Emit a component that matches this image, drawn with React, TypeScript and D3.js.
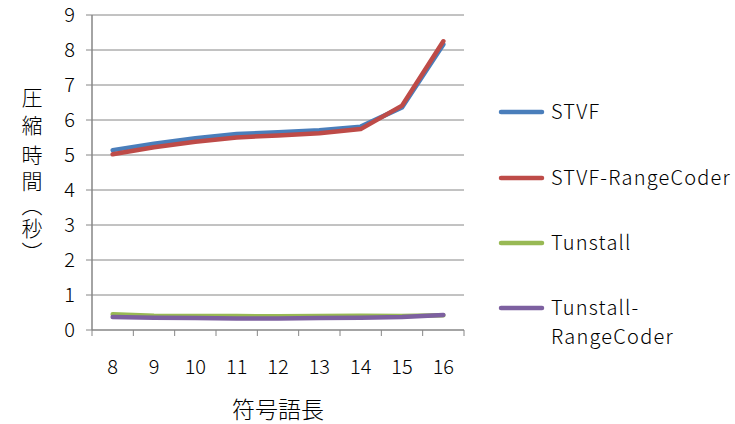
import * as d3 from "d3";

const categories = ["8", "9", "10", "11", "12", "13", "14", "15", "16"];
const stvf = [5.14, 5.32, 5.48, 5.6, 5.65, 5.71, 5.81, 6.36, 8.16];
const stvfRange = [5.02, 5.22, 5.38, 5.5, 5.56, 5.62, 5.74, 6.41, 8.25];
const tunstall = [0.45, 0.41, 0.4, 0.4, 0.39, 0.4, 0.41, 0.4, 0.42];
const tunstallRange = [0.37, 0.35, 0.34, 0.33, 0.33, 0.34, 0.35, 0.37, 0.43];
const yTicks = [0, 1, 2, 3, 4, 5, 6, 7, 8, 9];
const yTitle = ["圧", "縮", "時", "間", "（", "秒", "）"];

const series = [
  { name: ["STVF"], values: stvf, color: "#4a7ebb" },
  { name: ["STVF-RangeCoder"], values: stvfRange, color: "#be4b48" },
  { name: ["Tunstall"], values: tunstall, color: "#98b954" },
  { name: ["Tunstall-", "RangeCoder"], values: tunstallRange, color: "#7d60a0" },
];
const legendY = [112, 178, 243, 308];
const titleY = [97, 125, 155, 181, 205, 228, 252];

const W = 735;
const H = 424;
const FONT = "'Noto Sans CJK JP', 'Open Sans', sans-serif";

export default function App() {
  const left = 92;
  const right = 464;
  const top = 15;
  const bottom = 330;

  const x = d3.scaleBand().domain(categories).range([left, right]);
  const y = d3.scaleLinear().domain([0, 9]).range([bottom, top]);
  const cx = (c: string) => (x(c) ?? 0) + x.bandwidth() / 2;

  const line = (vals: number[]) =>
    d3
      .line<number>()
      .x((_, i) => cx(categories[i]))
      .y((d) => y(d))(vals) ?? "";

  return (
    <svg
      width={W}
      height={H}
      style={{ position: "absolute", left: 0, top: 0, background: "#fff" }}
      fontFamily={FONT}
      fontWeight={300}
    >
      {/* grid */}
      {yTicks.slice(1).map((t) => (
        <line key={t} x1={left} x2={right} y1={y(t)} y2={y(t)} stroke="#868686" strokeWidth={1} />
      ))}
      {/* y axis */}
      <line x1={left} x2={left} y1={top} y2={bottom} stroke="#868686" strokeWidth={1.5} />
      {yTicks.map((t) => (
        <g key={t}>
          <line x1={left - 6} x2={left} y1={y(t)} y2={y(t)} stroke="#868686" strokeWidth={1} />
          <text x={75} y={y(t)} dy="0.35em" textAnchor="end" fontSize={20} fill="#000">
            {t}
          </text>
        </g>
      ))}
      {/* x axis */}
      <line x1={left} x2={right} y1={bottom} y2={bottom} stroke="#868686" strokeWidth={1.5} />
      {categories.map((c, i) => (
        <line
          key={"t" + c}
          x1={left + i * x.bandwidth()}
          x2={left + i * x.bandwidth()}
          y1={bottom}
          y2={bottom + 6}
          stroke="#868686"
          strokeWidth={1}
        />
      ))}
      <line x1={right} x2={right} y1={bottom} y2={bottom + 6} stroke="#868686" strokeWidth={1} />
      {categories.map((c) => (
        <text key={c} x={cx(c)} y={367} dy="0.35em" textAnchor="middle" fontSize={20} fill="#000">
          {c}
        </text>
      ))}
      {/* lines */}
      {series.map((s) => (
        <path
          key={s.color}
          d={line(s.values)}
          fill="none"
          stroke={s.color}
          strokeWidth={4.5}
          strokeLinecap="round"
          strokeLinejoin="round"
        />
      ))}
      {/* axis titles */}
      <text x={278} y={410} dy="0.35em" textAnchor="middle" fontSize={23} fill="#000">
        符号語長
      </text>
      {yTitle.map((ch, i) => (
        <text
          key={i}
          x={32}
          y={titleY[i]}
          textAnchor="middle"
          fontSize={21}
          fill="#000"
          style={{ writingMode: "vertical-rl" }}
        >
          {ch}
        </text>
      ))}
      {/* legend */}
      {series.map((s, i) => (
        <g key={"lg" + i}>
          <line
            x1={501}
            x2={542}
            y1={legendY[i]}
            y2={legendY[i]}
            stroke={s.color}
            strokeWidth={4.5}
            strokeLinecap="round"
          />
          {s.name.map((n, j) => (
            <text
              key={n}
              x={551}
              y={legendY[i] + j * 29}
              dy="0.35em"
              fontSize={20}
              letterSpacing={1.2}
              fill="#000"
            >
              {n}
            </text>
          ))}
        </g>
      ))}
    </svg>
  );
}
